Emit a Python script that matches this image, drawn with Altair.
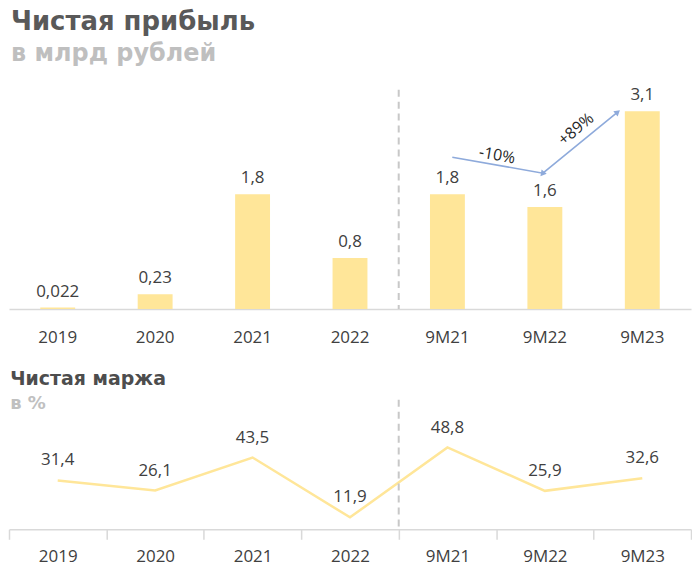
"""Net profit and net margin (Altair)."""

import altair as alt
import pandas as pd

# data
periods = ["2019", "2020", "2021", "2022", "9M21", "9M22", "9M23"]
profit = [0.022, 0.23, 1.8, 0.8, 1.8, 1.6, 3.1]
profit_text = ["0,022", "0,23", "1,8", "0,8", "1,8", "1,6", "3,1"]
margin = [31.4, 26.1, 43.5, 11.9, 48.8, 25.9, 32.6]

# growth annotation: path through 9M21 -> 9M22 -> 9M23 (index positions, centers at i + 0.5)
arrow_x = [4.55, 5.48, 6.24]
arrow_y = [2.38, 2.13, 3.08]
arrow_head_angle = [None, 100, 50]
growth_text = ["-10%", "+89%"]
growth_x = [5.01, 5.82]
growth_y = [2.41, 2.82]
growth_angle = [10, 320]

# split between full years and 9-month periods
split_x = 4.0

BAR = "#ffe699"
GREY_TXT = "#404040"
AXIS_GREY = "#d9d9d9"
ARROW = "#8eaadb"
FONT = "Open Sans"
TFONT = "DejaVu Sans"
W = 684

df = pd.DataFrame({
    "period": periods,
    "profit": profit,
    "profit_text": profit_text,
    "margin": margin,
    "margin_text": [f"{v:.1f}".replace(".", ",") for v in margin],
})
arrow = pd.DataFrame({"x": arrow_x, "y": arrow_y, "order": [0, 1, 2]})
heads = pd.DataFrame({"x": arrow_x[1:], "y": arrow_y[1:], "ang": arrow_head_angle[1:]})
growth = pd.DataFrame({"x": growth_x, "y": growth_y, "t": growth_text, "ang": growth_angle})

x_band = alt.X(
    "period:N", sort=periods, title=None,
    scale=alt.Scale(paddingInner=0.64, paddingOuter=0.32),
    axis=alt.Axis(labelAngle=0, ticks=False, tickSize=0, labelPadding=21,
                  domainColor=AXIS_GREY, domainWidth=1.5),
)
qx = alt.Scale(domain=[0, 7], nice=False)
ys_top = alt.Scale(domain=[0, 3.52], nice=False)
ys_bot = alt.Scale(domain=[5.6, 57.2], nice=False)

# --- top: net profit ---
y_top = alt.Y("profit:Q", title=None, axis=None, scale=ys_top)
bars = alt.Chart(df).mark_bar(color=BAR, size=35).encode(x=x_band, y=y_top)
bar_txt = alt.Chart(df).mark_text(
    font=FONT, fontSize=17, color=GREY_TXT, baseline="middle", dy=-16
).encode(x=x_band, y=y_top, text="profit_text:N")

split_top = alt.Chart(pd.DataFrame({"x": [split_x], "y": [3.44], "y2": [0.0]})).mark_rule(
    color="#c8c8c8", strokeWidth=2, strokeDash=[7, 5]
).encode(
    x=alt.X("x:Q", scale=qx, axis=None),
    y=alt.Y("y:Q", scale=ys_top, axis=None),
    y2="y2:Q",
)
arrow_line = alt.Chart(arrow).mark_line(color=ARROW, strokeWidth=1.6).encode(
    x=alt.X("x:Q", scale=qx, axis=None),
    y=alt.Y("y:Q", scale=ys_top, axis=None),
    order="order:Q",
)
arrow_heads = alt.Chart(heads).mark_point(
    shape="triangle", filled=True, color=ARROW, size=45, opacity=1
).encode(
    x=alt.X("x:Q", scale=qx, axis=None),
    y=alt.Y("y:Q", scale=ys_top, axis=None),
    angle=alt.Angle("ang:Q", scale=None),
)
growth_txt = alt.Chart(growth).mark_text(font=FONT, fontSize=16, color="#262626").encode(
    x=alt.X("x:Q", scale=qx, axis=None),
    y=alt.Y("y:Q", scale=ys_top, axis=None),
    text="t:N",
    angle=alt.Angle("ang:Q", scale=None),
)

top = alt.layer(
    alt.layer(bars, bar_txt),
    alt.layer(split_top, arrow_line, arrow_heads, growth_txt),
).resolve_scale(x="independent").properties(
    width=W, height=225,
    title=alt.TitleParams(
        text="Чистая прибыль", subtitle="в млрд рублей", anchor="start", dx=2,
        font=TFONT, fontSize=26, fontWeight="bold", color="#595959",
        subtitleFont=TFONT, subtitleFontSize=24, subtitleFontWeight="bold",
        subtitleColor="#bfbfbf", subtitlePadding=7, offset=19,
    ),
)

# --- bottom: net margin ---
x_band2 = alt.X(
    "period:N", sort=periods, title=None,
    axis=alt.Axis(labelAngle=0, ticks=True, tickBand="extent", tickSize=10,
                  tickColor=AXIS_GREY, tickWidth=1.5, labelPadding=9,
                  domainColor=AXIS_GREY, domainWidth=1.5),
)
y_bot = alt.Y("margin:Q", title=None, axis=None, scale=ys_bot)
line = alt.Chart(df).mark_line(color=BAR, strokeWidth=2.5).encode(x=x_band2, y=y_bot)
line_txt = alt.Chart(df).mark_text(
    font=FONT, fontSize=17, color=GREY_TXT, baseline="middle", dy=-20
).encode(x=x_band2, y=y_bot, text="margin_text:N")
split_bot = alt.Chart(pd.DataFrame({"x": [split_x], "y": [74.0], "y2": [5.6]})).mark_rule(
    color="#c8c8c8", strokeWidth=2, strokeDash=[7, 5]
).encode(
    x=alt.X("x:Q", scale=qx, axis=None),
    y=alt.Y("y:Q", scale=ys_bot, axis=None),
    y2="y2:Q",
)

bottom = alt.layer(
    alt.layer(line, line_txt), split_bot
).resolve_scale(x="independent").properties(
    width=W, height=98,
    title=alt.TitleParams(
        text="Чистая маржа", subtitle="в %", anchor="start", dx=2,
        font=TFONT, fontSize=19, fontWeight="bold", color="#4d4d4d",
        subtitleFont=TFONT, subtitleFontSize=18, subtitleFontWeight="bold",
        subtitleColor="#c0c0c0", subtitlePadding=6, offset=-14,
    ),
)

chart = alt.vconcat(top, bottom, spacing=24).properties(padding=0).configure_view(
    stroke=None
).configure_axis(
    labelFont=FONT, labelFontSize=17, labelColor=GREY_TXT, grid=False
)

chart.save("out.html", embed_options={"renderer": "svg", "actions": False})
